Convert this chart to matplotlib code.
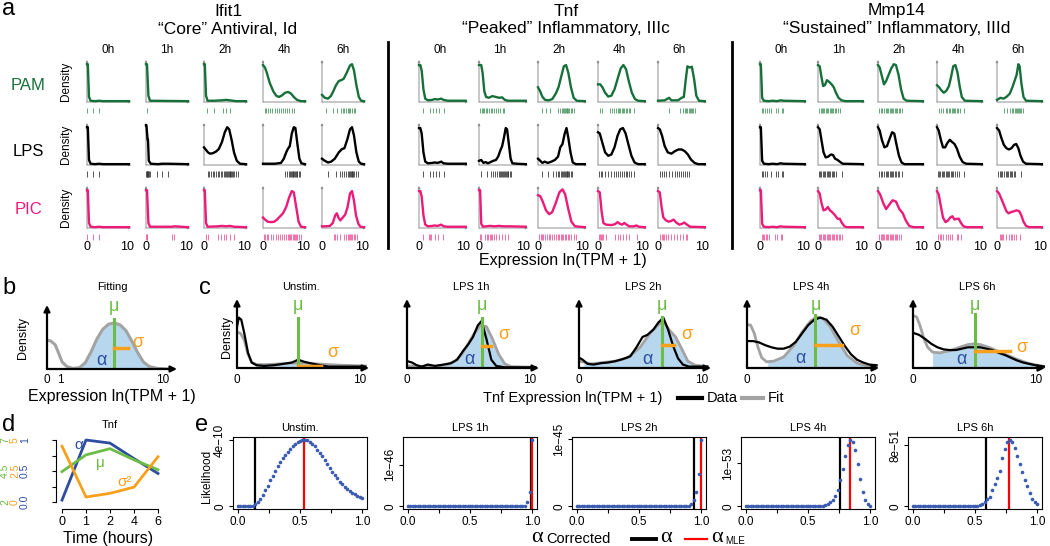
import matplotlib.pyplot as plt
from matplotlib.lines import Line2D
import numpy as np

plt.rcParams['font.family'] = ['Liberation Sans', 'DejaVu Sans']

# ---------------- panel a: density outlines (expression, height) and rug positions ----------------
TIMES = ["0h", "1h", "2h", "4h", "6h"]
STIMS = ["PAM", "LPS", "PIC"]
GENES = ["Ifit1", "Tnf", "Mmp14"]
SUBTITLES = ["\u201cCore\u201d Antiviral, Id", "\u201cPeaked\u201d Inflammatory, IIIc",
             "\u201cSustained\u201d Inflammatory, IIId"]

IFIT1_PAM = [
    [(0, .9), (.2, .9), (.5, .12), (.9, .03), (2, .02), (3, .03), (4, .02), (10.5, .02)],
    [(0, .9), (.25, .9), (.6, .15), (1, .03), (10.5, .02)],
    [(0, .9), (.2, .9), (.5, .15), (.9, .03), (2.5, .03), (4.5, .04), (5.5, .05), (6.5, .04), (8, .02), (10.5, .02)],
    [(0, .88), (.5, .82), (1, .68), (1.7, .45), (2.6, .25), (3.3, .15), (4, .12), (4.8, .16), (5.5, .22),
     (6.3, .24), (7, .2), (7.7, .12), (8.5, .05), (9.5, .02), (10.5, .02)],
    [(0, .17), (.7, .1), (1.5, .08), (2.2, .14), (2.8, .25), (3.5, .4), (4.2, .5), (4.8, .52), (5.4, .55),
     (6.2, .7), (7, .87), (7.5, .9), (8, .75), (8.6, .4), (9.2, .12), (9.8, .03), (10.5, .02)],
]
IFIT1_LPS = [
    [(0, .9), (.2, .9), (.5, .12), (.9, .03), (2, .02), (3, .03), (4, .02), (10.5, .02)],
    [(0, .95), (.1, .95), (.4, .6), (.5, .6), (.7, .1), (1.2, .03), (3, .02), (4, .03), (5.5, .03), (10.5, .02)],
    [(0, .42), (.5, .36), (1, .3), (1.5, .27), (2.2, .28), (3, .32), (3.7, .38), (4.5, .55), (5.2, .78),
     (5.8, .9), (6.3, .85), (6.9, .6), (7.5, .3), (8.2, .1), (9, .03), (10.5, .02)],
    [(0, .03), (3, .03), (4.5, .05), (5.2, .15), (5.8, .3), (6.2, .38), (6.7, .45), (7.2, .75), (7.7, .9),
     (8.1, .88), (8.6, .5), (9.1, .15), (9.6, .04), (10.5, .02)],
    [(0, .15), (.7, .1), (1.5, .06), (2.3, .08), (3.2, .15), (4.2, .3), (5, .38), (5.6, .4), (6.3, .6),
     (7, .85), (7.5, .9), (8, .7), (8.6, .3), (9.2, .08), (9.8, .03), (10.5, .02)],
]
IFIT1_PIC = [
    [(0, .9), (.2, .9), (.5, .12), (.9, .03), (2, .02), (3, .03), (4, .02), (10.5, .02)],
    [(0, .9), (.25, .9), (.6, .12), (1, .03), (6.5, .03), (7, .04), (10.5, .02)],
    [(0, .9), (.2, .9), (.5, .12), (.9, .03), (3.5, .04), (4.5, .05), (5.5, .04), (6.5, .05), (7.5, .03), (10.5, .02)],
    [(0, .25), (.5, .2), (1.2, .15), (2, .14), (2.8, .15), (3.5, .2), (4.3, .28), (5, .35), (5.8, .5),
     (6.5, .72), (7.2, .88), (7.7, .85), (8.3, .5), (8.9, .15), (9.5, .03), (10.5, .02)],
    [(0, .04), (1, .04), (2, .05), (2.7, .12), (3.3, .3), (3.7, .35), (4.1, .25), (4.6, .18), (5.2, .25),
     (5.8, .32), (6.4, .5), (7, .82), (7.5, .88), (8, .65), (8.5, .3), (9.1, .1), (9.6, .03), (10.5, .02)],
]
IFIT1_PAM_RUG = [[0.1, 1.5, 3.0], [0.3], [0.8, 2.4, 4.7, 5.5, 6.6],
                 [0.4, 0.8, 1.3, 1.8, 2.3, 2.9, 3.4, 3.9, 4.5, 5.0, 5.6, 6.1, 6.6, 7.2, 7.7],
                 [0.9, 2.8, 3.8, 4.8, 5.2, 5.6, 6.0, 6.4, 6.8, 7.1, 7.5, 7.9, 8.3]]
IFIT1_LPS_RUG = [[0.1, 1.5, 3.0], [0.05, 0.15, 0.25, 0.35, 0.45, 0.6, 0.8, 1.0, 2.8, 4.1, 5.6],
                 [0.9, 1.3, 1.8, 2.2, 2.6, 3.0, 3.4, 3.8, 4.2, 4.6, 5.0, 5.3, 5.6, 5.8, 6.0, 6.2, 6.4, 6.6,
                  6.8, 7.0, 7.3, 7.6, 8.0, 8.5],
                 [5.6, 6.0, 6.4, 6.8, 7.0, 7.2, 7.4, 7.6, 7.8, 8.0, 8.2, 8.4, 8.6, 8.9, 9.3],
                 [1.5, 3.6, 4.5, 5.0, 5.6, 6.0, 6.4, 6.8, 7.0, 7.2, 7.4, 7.6, 7.8, 8.1, 8.5, 9.0]]
IFIT1_PIC_RUG = [[0.1, 1.5, 3.0], [0.05, 0.2, 0.35, 6.6, 7.0], [0.6, 1.0, 3.5, 4.3, 5.0, 5.6, 6.4, 7.4],
                 [0.3, 0.6, 0.9, 1.3, 2.0, 2.6, 3.2, 3.8, 4.3, 4.8, 5.3, 5.8, 6.2, 6.5, 6.8, 7.1, 7.4, 7.7,
                  8.0, 8.3, 8.6, 9.0, 9.5],
                 [3.0, 3.3, 3.7, 4.6, 5.5, 6.0, 6.4, 6.7, 7.0, 7.3, 7.6, 7.9, 8.3, 8.8]]

TNF_PAM = [
    [(0, .88), (.3, .88), (.6, .75), (1, .3), (1.4, .08), (2, .04), (3, .05), (3.5, .07), (4.2, .06), (5, .08),
     (5.5, .05), (6.5, .03), (10.5, .03)],
    [(0, .88), (.5, .88), (.8, .7), (1.2, .25), (1.6, .12), (2.2, .1), (3, .14), (3.8, .12), (4.5, .1),
     (5.2, .11), (5.8, .05), (6.5, .03), (10.5, .03)],
    [(0, .35), (.5, .25), (1, .12), (1.6, .05), (2.4, .04), (3.2, .07), (4, .2), (4.6, .35), (5.2, .6),
     (5.8, .85), (6.3, .88), (6.8, .7), (7.4, .35), (8, .1), (8.7, .03), (10.5, .02)],
    [(0, .42), (.5, .42), (1, .35), (1.6, .22), (2.3, .13), (3, .15), (3.7, .3), (4.4, .55), (5.1, .8),
     (5.7, .88), (6.3, .78), (6.9, .5), (7.6, .22), (8.3, .07), (9, .03), (10.5, .02)],
    [(0, .03), (1.5, .04), (2.5, .1), (3, .04), (4.5, .04), (5.3, .1), (5.8, .12), (6.2, .5), (6.6, .85),
     (7.1, .82), (7.6, .84), (8.1, .55), (8.6, .15), (9.2, .03), (10.5, .02)],
]
TNF_LPS = [
    [(0, .88), (.3, .88), (.6, .75), (1, .3), (1.4, .08), (2, .04), (3, .05), (3.5, .06), (4.2, .05), (5, .08),
     (5.5, .04), (6.5, .03), (10.5, .03)],
    [(0, .1), (.5, .12), (1, .05), (1.5, .07), (2, .04), (2.6, .07), (3.2, .1), (3.8, .12), (4.3, .2),
     (4.8, .35), (5.2, .45), (5.6, .65), (6, .88), (6.3, .85), (6.7, .5), (7.1, .15), (7.5, .04), (8.5, .03),
     (10.5, .02)],
    [(0, .15), (.5, .1), (1, .05), (1.5, .08), (2.2, .05), (3, .08), (3.8, .12), (4.5, .2), (5, .42),
     (5.5, .5), (6, .75), (6.4, .88), (6.8, .65), (7.3, .3), (7.8, .06), (8.5, .02), (10.5, .02)],
    [(0, .78), (.4, .75), (1, .52), (1.6, .3), (2.3, .22), (3, .25), (3.7, .42), (4.4, .7), (5, .85),
     (5.6, .88), (6.2, .75), (6.8, .5), (7.5, .22), (8.2, .06), (9, .02), (10.5, .02)],
    [(0, .88), (.4, .85), (.9, .7), (1.5, .45), (2.2, .3), (3, .27), (3.8, .33), (4.6, .37), (5.3, .37),
     (6, .33), (6.7, .25), (7.4, .13), (8.2, .05), (9, .02), (10.5, .02)],
]
TNF_PIC = [
    [(0, .88), (.3, .88), (.6, .75), (1, .3), (1.4, .08), (2, .04), (3, .05), (3.5, .06), (4.2, .05), (5, .08),
     (5.5, .04), (6.5, .03), (10.5, .03)],
    [(0, .9), (.25, .9), (.5, .1), (.9, .03), (1.5, .04), (2.5, .05), (3.5, .04), (4.5, .05), (5.5, .04),
     (7, .04), (10.5, .03)],
    [(0, .78), (.5, .76), (1.1, .62), (1.8, .42), (2.5, .33), (3.2, .38), (4, .6), (4.8, .85), (5.5, .92),
     (6.1, .8), (6.8, .45), (7.5, .15), (8.3, .04), (10.5, .02)],
    [(0, .88), (.4, .85), (.8, .4), (1.2, .12), (1.8, .08), (3, .07), (3.8, .09), (4.4, .14), (4.9, .1),
     (5.4, .08), (5.9, .12), (6.4, .08), (7, .04), (8, .04), (8.6, .06), (9.2, .03), (10.5, .02)],
    [(0, .88), (.4, .85), (.8, .5), (1.2, .25), (1.8, .18), (2.4, .15), (3, .17), (3.5, .2), (4.1, .13),
     (4.8, .08), (5.4, .1), (5.9, .13), (6.5, .08), (7.2, .03), (10.5, .02)],
]
TNF_PAM_RUG = [[0.9, 2.5, 3.1, 3.8, 4.6, 5.5],
               [0.3, 0.6, 0.9, 1.2, 1.5, 1.8, 2.2, 2.6, 3.0, 3.4, 3.8, 4.3, 4.8, 5.3, 5.6],
               [0.8, 1.9, 2.8, 4.6, 5.0, 5.3, 5.6, 5.8, 6.0, 6.2, 6.4, 6.6, 6.8, 7.0, 7.3, 7.6, 8.0],
               [0.4, 0.8, 2.6, 3.2, 3.6, 4.0, 4.4, 4.7, 5.0, 5.3, 5.6, 5.9, 6.2, 6.5, 6.9, 7.2, 8.0],
               [2.5, 5.0, 5.6, 6.0, 6.3, 6.6, 6.9, 7.1, 7.3, 7.6, 7.9, 8.3]]
TNF_LPS_RUG = [[0.9, 2.5, 3.1, 3.8, 4.6, 5.5],
               [0.4, 1.7, 2.8, 3.2, 3.7, 4.1, 4.5, 4.8, 5.0, 5.2, 5.4, 5.6, 5.8, 6.0, 6.2, 6.4, 6.6, 6.9, 7.2],
               [0.8, 2.2, 3.4, 4.0, 4.4, 4.8, 5.1, 5.4, 5.6, 5.8, 6.0, 6.2, 6.4, 6.6, 6.8, 7.0, 7.3, 7.7],
               [0.3, 0.7, 1.0, 1.5, 2.2, 3.0, 3.6, 4.1, 4.6, 5.0, 5.4, 5.8, 6.2, 6.5, 6.9, 7.3, 8.0],
               [0.4, 0.8, 1.3, 1.7, 2.5, 3.2, 3.9, 4.3, 4.7, 5.1, 5.5, 6.0, 6.4, 7.0]]
TNF_PIC_RUG = [[0.9, 2.2, 2.5, 2.8, 3.6, 4.2, 5.3],
               [0.2, 0.5, 1.4, 1.8, 2.1, 2.4, 2.7, 3.0, 3.4, 3.9, 4.6, 5.2, 5.9, 6.5],
               [0.3, 0.6, 0.9, 1.2, 1.6, 2.0, 2.4, 2.8, 3.2, 3.6, 4.0, 4.4, 4.8, 5.1, 5.4, 5.7, 6.0, 6.3,
                6.7, 7.0, 7.5, 8.0, 8.6],
               [0.2, 0.4, 0.6, 0.9, 1.2, 1.8, 3.8, 4.4, 4.9, 5.6, 6.2, 6.9, 8.7],
               [0.5, 0.8, 1.1, 1.4, 1.7, 2.3, 3.0, 3.5, 4.2, 5.0, 5.6, 6.2, 6.5]]

MMP14_PAM = [
    [(0, .9), (.2, .9), (.5, .1), (.9, .03), (2, .02), (3, .03), (4, .02), (4.8, .04), (5.5, .03), (10.5, .02)],
    [(0, .88), (.4, .85), (.8, .6), (1.2, .38), (1.6, .4), (2.1, .52), (2.6, .48), (3.2, .42), (3.7, .35),
     (4.2, .22), (4.8, .1), (5.5, .04), (6.5, .02), (10.5, .02)],
    [(0, .88), (.4, .82), (.9, .62), (1.4, .42), (1.9, .5), (2.5, .65), (3.1, .8), (3.7, .9), (4.2, .88),
     (4.8, .65), (5.4, .3), (6, .08), (6.7, .03), (10.5, .02)],
    [(0, .4), (.5, .35), (1, .28), (1.6, .22), (2.2, .27), (2.8, .38), (3.3, .6), (3.8, .85), (4.3, .88),
     (4.8, .7), (5.3, .38), (5.8, .12), (6.5, .03), (10.5, .02)],
    [(0, .05), (.8, .1), (1.5, .08), (2.2, .12), (3, .2), (3.6, .35), (4.1, .5), (4.6, .65), (5, .9),
     (5.3, .85), (5.7, .45), (6.2, .12), (6.8, .03), (10.5, .02)],
]
MMP14_LPS = [
    [(0, .9), (.2, .9), (.5, .1), (.9, .03), (2, .02), (3, .03), (4, .02), (4.8, .04), (5.5, .03), (10.5, .02)],
    [(0, .9), (.4, .85), (.8, .6), (1.3, .3), (1.8, .18), (2.4, .2), (3, .25), (3.5, .24), (4, .15),
     (4.6, .12), (5.2, .07), (5.8, .03), (10.5, .02)],
    [(0, .9), (.4, .82), (.9, .6), (1.5, .42), (2.1, .45), (2.7, .62), (3.3, .78), (3.8, .75), (4.3, .5),
     (4.9, .22), (5.5, .06), (6.2, .02), (10.5, .02)],
    [(0, .9), (.4, .82), (.9, .6), (1.4, .42), (1.9, .42), (2.4, .52), (3, .6), (3.5, .55), (4.1, .5),
     (4.7, .38), (5.3, .2), (6, .07), (6.8, .03), (10.5, .02)],
    [(0, .88), (.5, .82), (1, .65), (1.6, .48), (2.2, .4), (2.8, .37), (3.4, .4), (4, .48), (4.5, .5),
     (5, .4), (5.5, .22), (6.1, .08), (6.8, .03), (10.5, .02)],
]
MMP14_PIC = [
    [(0, .9), (.2, .9), (.5, .1), (.9, .03), (2, .02), (3, .03), (4, .02), (4.8, .04), (5.5, .03), (10.5, .02)],
    [(0, .88), (.4, .82), (.8, .6), (1.3, .42), (1.8, .44), (2.3, .5), (2.8, .42), (3.4, .37), (4, .3),
     (4.6, .22), (5.1, .22), (5.6, .12), (6.2, .04), (6.8, .02), (10.5, .02)],
    [(0, .88), (.5, .8), (1.2, .6), (1.9, .45), (2.6, .55), (3.4, .66), (4.2, .63), (5, .45), (5.8, .35),
     (6.5, .18), (7.3, .05), (8.3, .02), (10.5, .02)],
    [(0, .88), (.4, .8), (.9, .52), (1.4, .25), (2, .14), (2.6, .18), (3.1, .25), (3.6, .28), (4.1, .2),
     (4.6, .22), (5.1, .22), (5.6, .12), (6.2, .04), (7, .02), (10.5, .02)],
    [(0, .88), (.5, .82), (1, .7), (1.6, .55), (2.2, .4), (2.7, .35), (3.3, .38), (4, .4), (4.6, .42),
     (5.2, .4), (5.7, .3), (6.2, .15), (6.8, .05), (7.5, .02), (10.5, .02)],
]
MMP14_PAM_RUG = [[0.4, 0.8, 1.2, 1.6, 2.0, 2.5, 3.8, 4.3, 5.1, 5.4],
                 [0.3, 0.6, 0.9, 1.2, 1.5, 1.8, 2.1, 2.4, 2.7, 3.0, 3.3, 3.6, 3.9, 4.2, 4.6, 5.2],
                 [0.3, 0.6, 1.0, 1.4, 1.8, 2.1, 2.4, 2.7, 3.0, 3.3, 3.6, 3.9, 4.2, 4.5, 4.8, 5.2, 5.6],
                 [0.5, 1.0, 1.5, 2.0, 2.4, 2.8, 3.1, 3.4, 3.7, 4.0, 4.3, 4.6, 4.9, 5.3, 6.3],
                 [1.6, 2.3, 3.0, 3.4, 3.8, 4.1, 4.4, 4.7, 5.0, 5.2, 5.4, 5.7, 6.0]]
MMP14_LPS_RUG = [[0.4, 0.8, 1.2, 1.6, 2.5, 3.8, 4.3, 5.1, 5.4],
                 [0.2, 0.5, 0.8, 1.1, 1.4, 1.7, 2.0, 2.3, 2.6, 2.9, 3.2, 3.5, 3.8, 4.1, 5.5],
                 [0.3, 0.7, 1.0, 1.4, 1.8, 2.1, 2.4, 2.7, 3.0, 3.3, 3.6, 3.9, 4.2, 4.6, 5.0, 5.5],
                 [0.2, 0.5, 0.8, 1.1, 1.4, 1.7, 2.0, 2.3, 2.6, 2.9, 3.2, 3.5, 3.8, 4.1, 4.6, 5.2, 6.4],
                 [0.3, 0.6, 0.9, 1.2, 1.6, 2.0, 2.3, 2.6, 3.0, 3.3, 3.6, 4.0, 4.3, 5.5]]
MMP14_PIC_RUG = [[0.4, 0.7, 1.0, 1.3, 1.7, 2.0, 3.6, 4.0, 4.8, 5.2],
                 [0.2, 0.5, 0.8, 1.1, 1.4, 1.7, 2.0, 2.3, 2.6, 2.9, 3.2, 3.5, 3.8, 4.1, 4.4, 4.8, 5.2, 5.6],
                 [0.3, 0.6, 0.9, 1.2, 1.5, 1.8, 2.1, 2.4, 2.7, 3.0, 3.3, 3.6, 3.9, 4.2, 4.5, 4.9, 5.4],
                 [0.3, 0.6, 1.0, 1.4, 2.0, 2.6, 3.1, 3.6, 4.6, 5.0, 5.7],
                 [0.6, 0.9, 1.2, 1.5, 2.2, 2.8, 3.2, 3.6, 4.0, 4.4, 5.3]]

CURVES = {("Ifit1", "PAM"): IFIT1_PAM, ("Ifit1", "LPS"): IFIT1_LPS, ("Ifit1", "PIC"): IFIT1_PIC,
          ("Tnf", "PAM"): TNF_PAM, ("Tnf", "LPS"): TNF_LPS, ("Tnf", "PIC"): TNF_PIC,
          ("Mmp14", "PAM"): MMP14_PAM, ("Mmp14", "LPS"): MMP14_LPS, ("Mmp14", "PIC"): MMP14_PIC}
RUGS = {("Ifit1", "PAM"): IFIT1_PAM_RUG, ("Ifit1", "LPS"): IFIT1_LPS_RUG, ("Ifit1", "PIC"): IFIT1_PIC_RUG,
        ("Tnf", "PAM"): TNF_PAM_RUG, ("Tnf", "LPS"): TNF_LPS_RUG, ("Tnf", "PIC"): TNF_PIC_RUG,
        ("Mmp14", "PAM"): MMP14_PAM_RUG, ("Mmp14", "LPS"): MMP14_LPS_RUG, ("Mmp14", "PIC"): MMP14_PIC_RUG}

# ---------------- panel b: fitting sketch ----------------
B_FIT = [(0, .45), (.3, .44), (.7, .38), (1, .25), (1.3, .11), (1.7, .04), (2.2, .01), (2.8, .02), (3.3, .1),
         (3.8, .27), (4.3, .47), (4.8, .62), (5.3, .7), (5.8, .72), (6.3, .69), (6.8, .6), (7.3, .44),
         (7.8, .26), (8.3, .11), (8.8, .04), (9.5, .01), (10.5, 0)]
B_FILL = [(1.1, 0), (2.2, .01), (2.8, .02), (3.3, .1), (3.8, .27), (4.3, .47), (4.8, .62), (5.3, .7),
          (5.8, .72), (6.3, .69), (6.8, .6), (7.3, .44), (7.8, .26), (8.3, .11), (8.8, .04), (9.5, .01), (10.5, 0)]
B_MU, B_MU_TOP, B_SIGMA_END, B_SIGMA_Y = 5.8, 0.78, 7.0, 0.33

# ---------------- panel c: Tnf LPS time course, data vs fit ----------------
C_TITLES = ["Unstim.", "LPS 1h", "LPS 2h", "LPS 4h", "LPS 6h"]
C_DATA = [
    [(0, .6), (.15, .73), (.35, .7), (.6, .5), (.9, .22), (1.2, .08), (1.6, .04), (2.2, .03), (3, .04),
     (3.8, .06), (4.5, .08), (5, .12), (5.5, .09), (6, .07), (6.8, .04), (7.5, .02), (8.5, .02), (10.5, .02)],
    [(0, .1), (.4, .08), (.8, .04), (1.2, .02), (1.7, .05), (2.3, .03), (3, .05), (3.6, .07), (4.1, .12),
     (4.6, .25), (5, .34), (5.4, .45), (5.8, .62), (6.1, .68), (6.5, .42), (6.9, .12), (7.3, .03), (8, .01),
     (10.5, .01)],
    [(0, .15), (.3, .12), (.7, .06), (1.2, .05), (1.8, .07), (2.4, .08), (3, .1), (3.6, .13), (4.2, .17),
     (4.7, .3), (5.2, .45), (5.6, .48), (6.1, .56), (6.5, .66), (6.9, .73), (7.3, .55), (7.7, .32), (8.1, .14),
     (8.5, .05), (9, .02), (10.5, .02)],
    [(0, .39), (.5, .39), (1, .37), (1.5, .33), (2, .3), (2.5, .28), (3, .28), (3.5, .31), (4, .38), (4.5, .5),
     (5, .62), (5.5, .7), (6, .73), (6.5, .7), (7, .6), (7.5, .46), (8, .32), (8.5, .2), (9, .12), (9.5, .08),
     (10, .05), (10.6, .04)],
    [(0, .51), (.5, .48), (1, .42), (1.5, .35), (2, .3), (2.5, .27), (3, .26), (3.5, .26), (4, .28), (4.5, .3),
     (5, .3), (5.5, .3), (6, .28), (6.5, .26), (7, .22), (7.5, .19), (8, .15), (8.5, .11), (9, .08),
     (9.5, .06), (10, .04), (10.8, .02)],
]
C_FIT = [
    [(0, .52), (.3, .5), (.6, .4), (.9, .2), (1.2, .08), (1.6, .05), (2.5, .05), (3.5, .06), (4.5, .07),
     (5, .07), (5.5, .07), (6.5, .06), (7.5, .05), (8.5, .04), (10.5, .03)],
    [(0, .03), (.5, .03), (1, .02), (2, .02), (3, .04), (3.5, .06), (4, .11), (4.5, .2), (5, .35), (5.5, .5),
     (6, .62), (6.5, .6), (7, .42), (7.5, .2), (8, .06), (8.5, .02), (10.5, .01)],
    [(0, .1), (1, .06), (2, .08), (3, .1), (4, .15), (5, .3), (5.8, .5), (6.5, .63), (6.9, .68), (7.4, .55),
     (7.9, .45), (8.4, .28), (8.9, .1), (9.5, .04), (10.5, .02)],
    [(0, .63), (.3, .62), (.6, .5), (.9, .3), (1.2, .15), (1.6, .09), (2.2, .1), (3, .16), (3.8, .32),
     (4.5, .52), (5.2, .68), (5.7, .74), (6.2, .72), (6.8, .6), (7.5, .38), (8.2, .18), (9, .07), (9.8, .03),
     (10.6, .02)],
    [(0, .76), (.3, .74), (.6, .6), (.9, .42), (1.2, .3), (1.6, .23), (2.2, .22), (3, .25), (3.8, .3),
     (4.5, .34), (5, .35), (5.5, .34), (6.2, .3), (7, .24), (7.8, .18), (8.6, .12), (9.4, .07), (10.2, .04),
     (10.8, .02)],
]
C_FILL = [
    [(1.5, .03), (2.5, .04), (3.5, .05), (4.5, .06), (5, .07), (5.5, .06), (6.5, .05), (7.5, .04), (8.5, .02)],
    [(1, 0), (2, .01), (3, .03), (3.5, .06), (4, .11), (4.5, .2), (5, .35), (5.5, .5), (6, .62), (6.5, .6),
     (7, .42), (7.5, .2), (8, .06), (8.5, .02), (10.5, .01)],
    [(.4, .09), (1, .06), (2, .08), (3, .1), (4, .15), (5, .3), (5.8, .5), (6.5, .63), (6.9, .68), (7.4, .55),
     (7.9, .45), (8.4, .28), (8.9, .1), (9.5, .04), (10.5, .02)],
    [(1.7, .09), (2.2, .1), (3, .16), (3.8, .32), (4.5, .52), (5.2, .68), (5.7, .74), (6.2, .72), (6.8, .6),
     (7.5, .38), (8.2, .18), (9, .07), (9.8, .03), (10.6, .02)],
    [(1.6, .23), (2.2, .22), (3, .25), (3.8, .3), (4.5, .34), (5, .35), (5.5, .34), (6.2, .3), (7, .24),
     (7.8, .18), (8.6, .12), (9.4, .07), (10.2, .04), (10.8, .02)],
]
C_MU = [5.0, 6.1, 6.8, 5.6, 5.1]
C_MU_TOP = [0.72, 0.72, 0.74, 0.77, 0.78]
C_SIGMA_END = [6.9, 6.9, 7.8, 7.8, 7.9]
C_SIGMA_Y = [0.03, 0.32, 0.34, 0.34, 0.24]

# ---------------- panel d: Tnf parameters over time ----------------
D_TIMES = ["0", "1", "2", "4", "6"]
D_ALPHA = [0.03, 1.0, 0.95, 0.70, 0.46]
D_MU = [4.45, 5.8, 6.3, 5.4, 4.6]
D_SIGMA2 = [4.5, 0.4, 0.7, 1.2, 3.65]

# ---------------- panel e: likelihood of alpha ----------------
E_TITLES = ["Unstim.", "LPS 1h", "LPS 2h", "LPS 4h", "LPS 6h"]
E_ALPHA = np.linspace(0, 1, 51)
E_PEAK = [4.05e-10, 1.6e-46, 0.99e-45, 1.54e-53, 8.7e-51]
E_TICK = [4e-10, 1e-46, 1e-45, 1e-53, 8e-51]
E_TICK_LABEL = ["4e\u221210", "1e\u221246", "1e\u221245", "1e\u221253", "8e\u221251"]
E_CORRECTED = [0.14, 0.995, 0.947, 0.757, 0.587]
E_MLE = [0.535, 1.0, 1.0, 0.836, 0.773]
E_UNSTIM = [0, 0, 0, 0, .002, .004, .01,
            .03, .06, .11, .17, .24, .31, .39, .46, .53, .6, .66, .72, .77, .82, .86, .9, .93, .96, .98, .995,
            1.0, .99, .97, .94, .9, .85, .8, .75, .69, .63, .58, .52, .47, .42, .37, .33, .29, .26, .23, .2,
            .18, .16, .14, .12]
E_LPS1 = [0] * 44 + [.002, .004, .008, .01, .06, .22, 1.0]
E_LPS2 = [0] * 43 + [.004, .006, .01, .03, .09, .21, .48, 1.0]
E_LPS4 = [0] * 30 + [.005, .01, .02, .035, .06, .1, .16, .25, .39, .56, .76, .92, 1.0, .97, .85, .64, .41,
                     .22, .09, .03, .005]
E_LPS6 = [0] * 25 + [.005, .01, .02, .04, .07, .11, .14, .24, .33, .42, .53, .72, .86, .97, 1.0, .97, .88,
                     .76, .64, .52, .4, .3, .2, .11, .06, .03]
E_REL = [E_UNSTIM, E_LPS1, E_LPS2, E_LPS4, E_LPS6]

# ---------------- styling ----------------
STIM_COLORS = {"PAM": "#17703a", "LPS": "black", "PIC": "#ec1a78"}
RUG_COLORS = {"PAM": "#4f9a63", "LPS": "#3a3a3a", "PIC": "#f05a9c"}
BLUE_FILL = "#b7d7ee"
GREEN = "#6cbd45"
ORANGE = "#f8a01c"
ABLUE = "#2d4da0"
GRAY = "#a3a3a3"

W, H = 1050, 546
fig = plt.figure(figsize=(W / 100, H / 100), dpi=100)


def add_ax(left, top, width, height):
    return fig.add_axes([left / W, 1 - (top + height) / H, width / W, height / H])


def put(x, y, s, **kw):
    kw.setdefault("ha", "center")
    kw.setdefault("va", "center")
    fig.text(x / W, 1 - y / H, s, **kw)


def fig_line(x0, x1, y0, y1, **kw):
    fig.add_artist(Line2D([x0 / W, x1 / W], [1 - y0 / H, 1 - y1 / H], **kw))


def axis_arrows(ax, xmax, ymax, color, lw, head):
    style = dict(arrowstyle="-|>", color=color, lw=lw, mutation_scale=head, shrinkA=0, shrinkB=0)
    ax.annotate("", xy=(xmax, 0), xytext=(0, 0), arrowprops=style, annotation_clip=False)
    ax.annotate("", xy=(0, ymax), xytext=(0, 0), arrowprops=style, annotation_clip=False)


# ================= panel a =================
put(9, 9, "a", fontsize=17)
GROUP_CENTERS = [228, 566, 897]
GROUP_LEFTS = [[87, 146, 204, 263, 322], [419, 479, 538, 598, 658], [760, 818, 878, 937, 997]]
GROUP_W = [44, 49, 47]
BASELINES = [102, 165, 228]
ROW_LABEL_Y = [85, 152, 210]
PH = 42.0

for gi, gene in enumerate(GENES):
    put(GROUP_CENTERS[gi], 11, gene, fontsize=12.5)
    put(GROUP_CENTERS[gi], 29, SUBTITLES[gi], fontsize=12.5)
    for ti, t in enumerate(TIMES):
        put(GROUP_LEFTS[gi][ti] + 21, 50, t, fontsize=8.5)
    for si, stim in enumerate(STIMS):
        if gi == 0:
            put(28, ROW_LABEL_Y[si], stim, fontsize=12, color=STIM_COLORS[stim])
            put(66, BASELINES[si] - 21, "Density", fontsize=8.5, rotation=90)
        for ti in range(5):
            ax = add_ax(GROUP_LEFTS[gi][ti], BASELINES[si] - PH, GROUP_W[gi], PH + 13)
            ax.set_xlim(0, 11)
            ax.set_ylim(-13 / PH, 1)
            ax.axis("off")
            axis_arrows(ax, 11, 1, "#8e8e8e", 0.7, 3)
            xs, ys = zip(*CURVES[(gene, stim)][ti])
            ax.plot(xs, ys, color=STIM_COLORS[stim], lw=1.7, zorder=3, clip_on=False,
                    solid_joinstyle="round")
            ax.vlines(RUGS[(gene, stim)][ti], -11.5 / PH, -6 / PH, color=RUG_COLORS[stim], lw=0.6)
            if si == 2:
                ax.text(0, -19 / PH, "0", ha="center", va="center", fontsize=9)
                ax.text(10, -19 / PH, "10", ha="center", va="center", fontsize=9)

fig_line(388, 388, 42, 248, color="black", lw=2)
fig_line(732, 732, 42, 248, color="black", lw=2)
put(563, 260, "Expression ln(TPM + 1)", fontsize=11.5)

# ================= panel b =================
put(9, 288, "b", fontsize=17)
put(112, 287, "Fitting", fontsize=8)
put(23, 338, "Density", fontsize=9, rotation=90)
ax = add_ax(47, 305, 130, 64)
ax.set_xlim(0, 11.2)
ax.set_ylim(0, 1)
ax.axis("off")
fx, fy = zip(*B_FILL)
ax.fill_between(fx, 0, fy, color=BLUE_FILL, lw=0)
gx, gy = zip(*B_FIT)
ax.plot(gx, gy, color=GRAY, lw=2.2)
ax.plot([B_MU, B_MU], [0, B_MU_TOP], color=GREEN, lw=2.2)
ax.plot([B_MU, B_SIGMA_END], [B_SIGMA_Y, B_SIGMA_Y], color=ORANGE, lw=2.5)
axis_arrows(ax, 11.2, 1, "black", 1.6, 9)
ax.text(B_MU, 0.97, "\u03bc", color=GREEN, ha="center", va="center", fontsize=13, clip_on=False)
ax.text(7.8, 0.42, "\u03c3", color=ORANGE, ha="center", va="center", fontsize=13)
ax.text(4.7, 0.14, "\u03b1", color=ABLUE, ha="center", va="center", fontsize=13)
put(47, 380, "0", fontsize=8.5)
put(60, 380, "1", fontsize=8.5)
put(163, 380, "10", fontsize=8.5)
put(112, 397, "Expression ln(TPM + 1)", fontsize=11.5)

# ================= panel c =================
put(205, 288, "c", fontsize=17)
put(227, 337, "Density", fontsize=9, rotation=90)
C_LEFTS = [237, 407, 579, 747, 913]
C_ALPHA_POS = [None, (5.1, .12), (5.6, .12), (4.4, .14), (4.0, .13)]
C_SIGMA_POS = [(7.8, .22), (7.9, .49), (8.8, .48), (8.8, .55), (8.9, .3)]
for ci in range(5):
    left = C_LEFTS[ci]
    ax = add_ax(left, 299, 132, 69)
    ax.set_xlim(0, 10.8)
    ax.set_ylim(0, 1)
    ax.axis("off")
    fx, fy = zip(*C_FILL[ci])
    ax.fill_between(fx, 0, fy, color=BLUE_FILL, lw=0)
    gx, gy = zip(*C_FIT[ci])
    ax.plot(gx, gy, color=GRAY, lw=2.0)
    dx, dy = zip(*C_DATA[ci])
    ax.plot(dx, dy, color="black", lw=1.6)
    ax.plot([C_MU[ci], C_MU[ci]], [0, C_MU_TOP[ci]], color=GREEN, lw=2.2)
    ax.plot([C_MU[ci], C_SIGMA_END[ci]], [C_SIGMA_Y[ci], C_SIGMA_Y[ci]], color=ORANGE, lw=2.5)
    axis_arrows(ax, 10.8, 1, "black", 1.6, 9)
    ax.text(C_MU[ci], 0.9, "\u03bc", color=GREEN, ha="center", va="center", fontsize=13, clip_on=False)
    ax.text(*C_SIGMA_POS[ci], "\u03c3", color=ORANGE, ha="center", va="center", fontsize=13)
    if C_ALPHA_POS[ci] is not None:
        ax.text(*C_ALPHA_POS[ci], "\u03b1", color=ABLUE, ha="center", va="center", fontsize=13)
    ax.text(0, -0.17, "0", ha="center", va="center", fontsize=8.5, clip_on=False)
    ax.text(10, -0.17, "10", ha="center", va="center", fontsize=8.5, clip_on=False)
    put(left + 64, 287, C_TITLES[ci], fontsize=8)

put(662, 398, "Tnf Expression ln(TPM + 1)", fontsize=10.5, ha="right")
fig_line(678, 702, 398, 398, color="black", lw=3)
put(707, 398, "Data", fontsize=10.5, ha="left")
fig_line(742, 763, 398, 398, color=GRAY, lw=3)
put(768, 398, "Fit", fontsize=10.5, ha="left")

# ================= panel d =================
put(9, 425, "d", fontsize=17)
put(110, 425, "Tnf", fontsize=8)
ax = add_ax(62, 440, 96, 62)
ax.set_xlim(0, 4)
ax.set_ylim(0, 1)
tpos = np.arange(len(D_TIMES))
ax.plot(tpos, D_ALPHA, color=ABLUE, lw=2, clip_on=False)
ax.plot(tpos, [(m - 2) / 5 for m in D_MU], color=GREEN, lw=2, clip_on=False)
ax.plot(tpos, [s / 5 for s in D_SIGMA2], color=ORANGE, lw=2, clip_on=False)
for side in ["top", "right"]:
    ax.spines[side].set_visible(False)
ax.spines["left"].set_position(("outward", 4))
ax.spines["bottom"].set_position(("outward", 5))
ax.set_xticks(tpos)
ax.set_xticklabels(D_TIMES, fontsize=9)
ax.set_yticks([0, 0.25, 0.5, 0.75, 1.0])
ax.set_yticklabels([])
ax.tick_params(length=3, width=0.8, pad=2)
ax.text(0.7, 0.92, "\u03b1", color=ABLUE, fontsize=11, ha="center", va="center")
ax.text(1.6, 0.63, "\u03bc", color=GREEN, fontsize=11, ha="center", va="center")
ax.text(2.6, 0.33, "\u03c3\u00b2", color=ORANGE, fontsize=11, ha="center", va="center")
for val, yy in zip(["2", "4.5", "7"], [502, 471, 440]):
    put(5, yy, val, color=GREEN, fontsize=7.5, rotation=90)
for val, yy in zip(["0", "2.5", "5"], [502, 471, 440]):
    put(15, yy, val, color=ORANGE, fontsize=7.5, rotation=90)
for val, yy in zip(["0.0", "0.5", "1"], [502, 471, 440]):
    put(25, yy, val, color=ABLUE, fontsize=7.5, rotation=90)
put(108, 538, "Time (hours)", fontsize=11.5)

# ================= panel e =================
put(202, 425, "e", fontsize=17)
put(207, 476, "Likelihood", fontsize=8.5, rotation=90)
E_LEFTS = [233, 403, 572, 741, 908]
for ei in range(5):
    ax = add_ax(E_LEFTS[ei], 437, 134, 72)
    peak = E_PEAK[ei]
    ax.set_xlim(-0.04, 1.04)
    ax.set_ylim(-0.04 * peak, 1.04 * peak)
    ax.axvline(E_CORRECTED[ei], color="black", lw=1.6)
    ax.axvline(E_MLE[ei], color="red", lw=1.6)
    ax.plot(E_ALPHA, [r * peak for r in E_REL[ei]], "o", color="#3a5bb0", ms=2.6, mew=0, zorder=3)
    ax.set_xticks([0, 0.25, 0.5, 0.75, 1.0])
    ax.set_xticklabels(["0.0", "", "0.5", "", "1.0"], fontsize=8.5)
    ax.set_yticks([0, E_TICK[ei]])
    ax.set_yticklabels(["0", E_TICK_LABEL[ei]], fontsize=8.5, rotation=90, va="center")
    ax.tick_params(length=3, width=0.8, pad=2)
    for sp in ax.spines.values():
        sp.set_linewidth(0.8)
    ax.set_title(E_TITLES[ei], fontsize=8, pad=4)

put(537, 538, "\u03b1", fontsize=16, family=["Liberation Serif", "DejaVu Serif"])
put(546, 539, "Corrected", fontsize=10.5, ha="left")
fig_line(632, 656, 539, 539, color="black", lw=2.8)
put(666, 538, "\u03b1", fontsize=16, family=["Liberation Serif", "DejaVu Serif"])
fig_line(685, 707, 539, 539, color="red", lw=1.6)
put(717, 538, "\u03b1", fontsize=16, family=["Liberation Serif", "DejaVu Serif"])
put(725, 541, "MLE", fontsize=7, ha="left")

fig.savefig("out.png", dpi=100)
